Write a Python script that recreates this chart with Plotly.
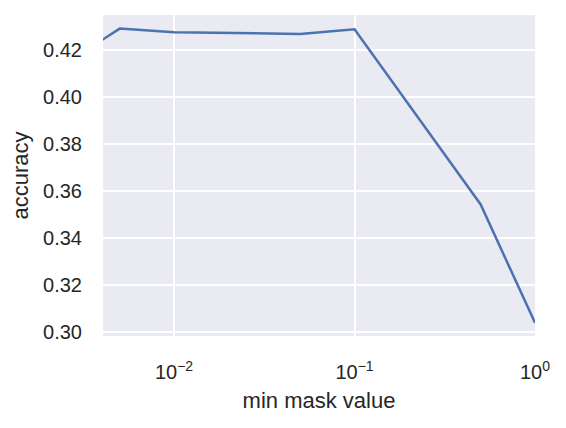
import numpy as np
import plotly.graph_objects as go

# data
min_mask = [0.004, 0.005, 0.01, 0.05, 0.1, 0.5, 1.0]
accuracy = [0.4243, 0.4291, 0.4276, 0.4268, 0.4288, 0.3542, 0.3038]
x_tick_vals = [0.01, 0.1, 1.0]
x_tick_text = ["10<sup>−2</sup>", "10<sup>−1</sup>", "10<sup>0</sup>"]
y_tick_vals = [0.30, 0.32, 0.34, 0.36, 0.38, 0.40, 0.42]

FONT = "Liberation Sans, Arial, sans-serif"
fig = go.Figure()
fig.add_trace(go.Scatter(x=min_mask, y=accuracy, mode="lines",
                         line=dict(color="#4C72B0", width=2.5), showlegend=False))

# page body adds an 8px offset; compensate with a slightly smaller figure
fig.update_layout(
    width=558, height=420,
    margin=dict(l=95, r=31, t=7, b=92, autoexpand=False),
    paper_bgcolor="white", plot_bgcolor="#EAEAF2",
    font=dict(family=FONT, color="#262626", size=20),
)
fig.update_xaxes(
    type="log", range=[np.log10(0.00404), 0], automargin=False,
    tickvals=x_tick_vals, ticktext=x_tick_text,
    showgrid=True, gridcolor="white", gridwidth=1.8, zeroline=False,
    showline=False, ticks="outside", ticklen=18, tickcolor="rgba(0,0,0,0)",
    tickfont=dict(size=20, family=FONT, color="#262626"),
    title=dict(text="min mask value", font=dict(size=22, family=FONT, color="#262626"), standoff=10),
)
fig.update_yaxes(
    range=[0.2982, 0.4349], automargin=False,
    tickvals=y_tick_vals, tickformat=".2f",
    showgrid=True, gridcolor="white", gridwidth=1.8, zeroline=False,
    showline=False, ticks="outside", ticklen=16, tickcolor="rgba(0,0,0,0)",
    tickfont=dict(size=20, family=FONT, color="#262626"),
    title=dict(text="accuracy", font=dict(size=22, family=FONT, color="#262626"), standoff=10),
)
fig.write_html("out.html")
